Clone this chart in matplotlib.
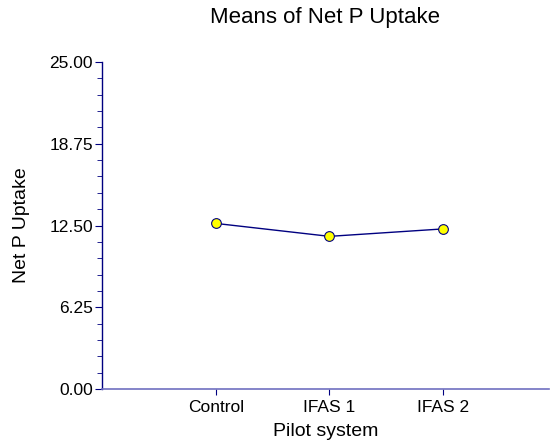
import matplotlib.pyplot as plt
import numpy as np
from matplotlib.ticker import MultipleLocator

plt.rcParams['font.family'] = ['Liberation Sans', 'DejaVu Sans']

groups = ['Control', 'IFAS 1', 'IFAS 2']
means = [12.66, 11.67, 12.24]
yticks = [0.00, 6.25, 12.50, 18.75, 25.00]

navy = '#000080'

fig = plt.figure(figsize=(5.5, 4.46), dpi=100)
ax = fig.add_axes([102/550, 57/446, 447/550, 327/446])

x = np.arange(1, len(groups) + 1)
ax.plot(x, means, color=navy, lw=1, marker='o', ms=7,
        mfc='#ffff00', mec=navy, mew=0.8)

ax.set_xlim(0, 3.93)
ax.set_ylim(0, 25)
ax.set_xticks(x)
ax.set_xticklabels(groups)
ax.set_yticks(yticks)
ax.set_yticklabels(['%.2f' % v for v in yticks])
ax.yaxis.set_minor_locator(MultipleLocator(1.25))

for s in ['top', 'right']:
    ax.spines[s].set_visible(False)
ax.spines['left'].set_color(navy)
ax.spines['bottom'].set_color('#7070c0')
ax.spines['left'].set_linewidth(1)
ax.spines['bottom'].set_linewidth(1.2)

ax.tick_params(axis='y', which='major', length=5, color=navy,
               labelsize=12.5, pad=1.5)
ax.tick_params(axis='y', which='minor', length=3.6, color=navy)
ax.tick_params(axis='x', which='major', length=4, color=navy,
               labelsize=12.5, pad=4)

fig.text(325.5/550, 1 - 17/446, 'Means of Net P Uptake', fontsize=16,
         ha='center', va='center')
ax.set_xlabel('Pilot system', fontsize=14, labelpad=6)
ax.set_ylabel('Net P Uptake', fontsize=14, labelpad=14)

fig.savefig('out.png', dpi=100)
